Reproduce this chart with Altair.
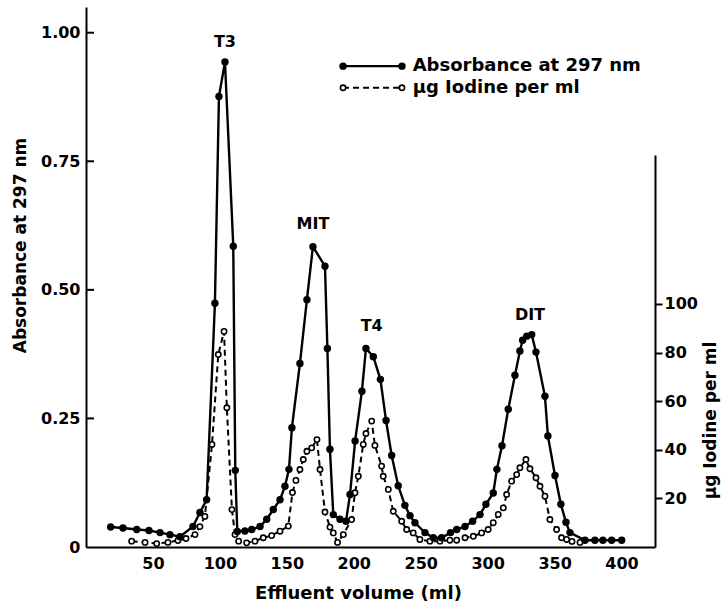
import altair as alt
import pandas as pd

# ---------------- data ----------------
# Absorbance at 297 nm (filled circles, solid line)
abs_x = [18.4, 27.6, 37.9, 47.0, 55.3, 62.7, 70.2, 79.9, 85.1, 90.1,
         96.3, 99.3, 103.8, 110.0, 111.5, 113.0, 118.7, 123.8, 130.0, 135.0,
         139.9, 144.9, 148.6, 151.6, 153.8, 159.8, 165.0, 169.5, 178.5, 180.3,
         182.2, 184.7, 189.7, 194.2, 197.2, 201.0, 206.1, 209.1, 214.6, 219.9,
         224.1, 228.3, 233.2, 238.2, 242.0, 245.7, 253.2, 259.4, 265.6, 272.3,
         276.9, 283.1, 288.8, 294.3, 298.7, 304.2, 306.9, 310.7, 315.4, 320.4,
         324.1, 326.1, 329.2, 332.9, 336.1, 342.8, 345.0, 350.3, 354.7, 358.5,
         361.5, 372.7, 380.1, 386.1, 392.6, 400.1]
abs_y = [0.039, 0.037, 0.034, 0.032, 0.028, 0.024, 0.020, 0.040, 0.067, 0.092,
         0.474, 0.876, 0.943, 0.585, 0.149, 0.030, 0.031, 0.034, 0.040, 0.054,
         0.073, 0.092, 0.118, 0.151, 0.232, 0.357, 0.481, 0.584, 0.546, 0.386,
         0.190, 0.063, 0.054, 0.050, 0.102, 0.206, 0.303, 0.386, 0.370, 0.326,
         0.246, 0.178, 0.119, 0.081, 0.061, 0.047, 0.028, 0.018, 0.018, 0.028,
         0.034, 0.040, 0.050, 0.063, 0.083, 0.105, 0.151, 0.197, 0.268, 0.334,
         0.381, 0.402, 0.410, 0.413, 0.379, 0.293, 0.216, 0.139, 0.083, 0.048,
         0.028, 0.013, 0.013, 0.013, 0.013, 0.013]

# ug iodine per ml (open circles, dashed line)
iod_x = [34.1, 44.1, 52.8, 61.2, 68.7, 74.7, 81.4, 85.1, 88.8, 94.1,
         98.8, 103.1, 105.2, 109.0, 111.3, 114.0, 120.0, 126.2, 132.4, 138.7,
         144.9, 151.1, 154.2, 156.8, 159.8, 162.3, 165.0, 168.6, 172.5, 174.8,
         178.5, 182.2, 184.7, 187.9, 192.2, 198.4, 200.9, 203.4, 207.1, 209.1,
         213.4, 215.8, 220.8, 222.0, 225.8, 229.5, 235.8, 239.5, 244.4, 249.4,
         256.9, 264.4, 271.8, 276.9, 283.1, 289.3, 295.5, 300.4, 304.2, 307.9,
         311.7, 314.2, 317.9, 321.7, 324.1, 328.6, 331.6, 336.1, 339.1, 342.8,
         346.5, 351.5, 355.2, 359.0, 363.0, 369.0]
iod_y = [2.4, 1.9, 1.4, 1.9, 2.7, 3.5, 5.1, 8.4, 12.6, 42.2,
         79.2, 88.7, 57.3, 15.4, 5.1, 2.4, 1.7, 2.4, 3.8, 4.7,
         6.5, 8.6, 22.4, 27.4, 31.9, 36.0, 39.4, 40.8, 44.2, 31.9,
         14.4, 8.2, 5.8, 1.9, 5.1, 11.3, 22.3, 29.1, 42.2, 46.7,
         51.8, 41.8, 33.3, 29.1, 23.7, 14.7, 10.6, 7.2, 5.8, 3.1,
         2.4, 2.4, 2.8, 2.8, 3.8, 4.4, 5.8, 7.2, 10.0, 13.4,
         16.1, 21.6, 27.1, 29.8, 32.6, 36.0, 32.2, 28.5, 25.0, 20.9,
         11.3, 7.2, 3.8, 3.1, 2.3, 1.9]

peak_names = ["T3", "MIT", "T4", "DIT"]
peak_x = [103.8, 169.5, 213.4, 331.6]
peak_y = [0.981, 0.629, 0.430, 0.452]

x_ticks = [50, 100, 150, 200, 250, 300, 350, 400]
left_ticks = [0, 0.25, 0.5, 0.75, 1.0]
left_tick_marks = [0.25, 0.5, 0.75, 1.0]
right_ticks = [20, 40, 60, 80, 100]

legend_labels = ["Absorbance at 297 nm", "\u00b5g Iodine per ml"]
legend_rows = [0.935, 0.893]
legend_line_x = [192, 236]
legend_text_x = 244

FONT = "DejaVu Sans"
W, H = 569, 540

# ---------------- encodings ----------------
X = alt.X("v:Q",
          scale=alt.Scale(domain=[0, 425], nice=False, zero=False),
          axis=alt.Axis(values=x_ticks, title="Effluent volume (ml)",
                        tickSize=0, labelPadding=8, labelFontSize=16,
                        labelFont=FONT, labelFontWeight="bold", labelColor="black",
                        domainColor="black", domainWidth=2, grid=False,
                        titleFont=FONT, titleFontSize=18, titleFontWeight="bold",
                        titleColor="black", titleX=272, titleY=46,
                        titleAlign="center", titleBaseline="middle"))

Y_ABS = alt.Y("a:Q",
              scale=alt.Scale(domain=[0, 1.05], nice=False),
              axis=alt.Axis(values=left_ticks,
                            labelExpr="datum.value == 0 ? '0' : format(datum.value, '.2f')",
                            tickSize=0, labelPadding=6, labelFontSize=16,
                            labelFont=FONT, labelFontWeight="bold", labelColor="black",
                            domainColor="black", domainWidth=2, grid=False,
                            title="Absorbance at 297 nm",
                            titleFont=FONT, titleFontSize=17, titleFontWeight="bold",
                            titleColor="black", titleAngle=270, titleX=-66, titleY=238,
                            titleAlign="center", titleBaseline="middle"))

Y_IOD = alt.Y("u:Q",
              scale=alt.Scale(domain=[0, 161.3], range=[540, 148], nice=False),
              axis=alt.Axis(orient="right", values=right_ticks,
                            tickSize=7, tickWidth=2, tickColor="black", labelPadding=2,
                            labelFontSize=16, labelFont=FONT, labelFontWeight="bold",
                            labelColor="black", domainColor="black", domainWidth=2,
                            grid=False, title="\u00b5g Iodine per ml",
                            titleFont=FONT, titleFontSize=17, titleFontWeight="bold",
                            titleColor="black", titleAngle=270, titleX=55, titleY=413,
                            titleAlign="center", titleBaseline="middle"))

absdf = pd.DataFrame({"v": abs_x, "a": abs_y})
ioddf = pd.DataFrame({"v": iod_x, "u": iod_y})
peakdf = pd.DataFrame({"v": peak_x, "a": peak_y, "name": peak_names})
tickdf = pd.DataFrame({"a": left_tick_marks})

abs_line = alt.Chart(absdf).mark_line(color="black", strokeWidth=2.4).encode(x=X, y=Y_ABS)
abs_pts = alt.Chart(absdf).mark_point(shape="circle", filled=True, color="black",
                                      size=55, opacity=1).encode(x=X, y=Y_ABS)
labels = alt.Chart(peakdf).mark_text(font=FONT, fontSize=16, fontWeight="bold",
                                     color="black", baseline="middle",
                                     align="center").encode(x=X, y=Y_ABS, text="name:N")
ticks = alt.Chart(tickdf).mark_rule(color="black", strokeWidth=2).encode(
    y=Y_ABS, x=alt.value(0), x2=alt.value(8))

# legend rows
leg1 = pd.DataFrame({"v": legend_line_x, "a": [legend_rows[0]] * 2})
leg2 = pd.DataFrame({"v": legend_line_x, "a": [legend_rows[1]] * 2})
legtxt = pd.DataFrame({"v": [legend_text_x] * 2, "a": legend_rows, "t": legend_labels})

leg1_line = alt.Chart(leg1).mark_line(color="black", strokeWidth=2.4).encode(x=X, y=Y_ABS)
leg1_pts = alt.Chart(leg1).mark_point(shape="circle", filled=True, color="black",
                                      size=55, opacity=1).encode(x=X, y=Y_ABS)
leg2_line = alt.Chart(leg2).mark_line(color="black", strokeWidth=2,
                                      strokeDash=[6, 4]).encode(x=X, y=Y_ABS)
leg2_pts = alt.Chart(leg2).mark_point(shape="circle", fill="white", fillOpacity=1,
                                      stroke="black", strokeWidth=1.6, size=28,
                                      opacity=1).encode(x=X, y=Y_ABS)
leg_text = alt.Chart(legtxt).mark_text(font=FONT, fontSize=18, fontWeight="bold",
                                       color="black", align="left",
                                       baseline="middle").encode(x=X, y=Y_ABS, text="t:N")

abs_layer = alt.layer(abs_line, abs_pts, labels, ticks,
                      leg1_line, leg1_pts, leg2_line, leg2_pts, leg_text)

iod_line = alt.Chart(ioddf).mark_line(color="black", strokeWidth=2,
                                      strokeDash=[6, 4]).encode(x=X, y=Y_IOD)
iod_pts = alt.Chart(ioddf).mark_point(shape="circle", fill="white", fillOpacity=1,
                                      stroke="black", strokeWidth=1.6, size=28,
                                      opacity=1).encode(x=X, y=Y_IOD)
iod_layer = alt.layer(iod_line, iod_pts)

chart = alt.layer(iod_layer, abs_layer).resolve_scale(y="independent").properties(
    width=W, height=H,
    padding={"left": 86, "top": 7, "right": 70, "bottom": 57},
    autosize=alt.AutoSizeParams(type="none"),
    background="white",
).configure_view(stroke=None)

chart.save("out.html", embed_options={"renderer": "svg", "actions": False})
